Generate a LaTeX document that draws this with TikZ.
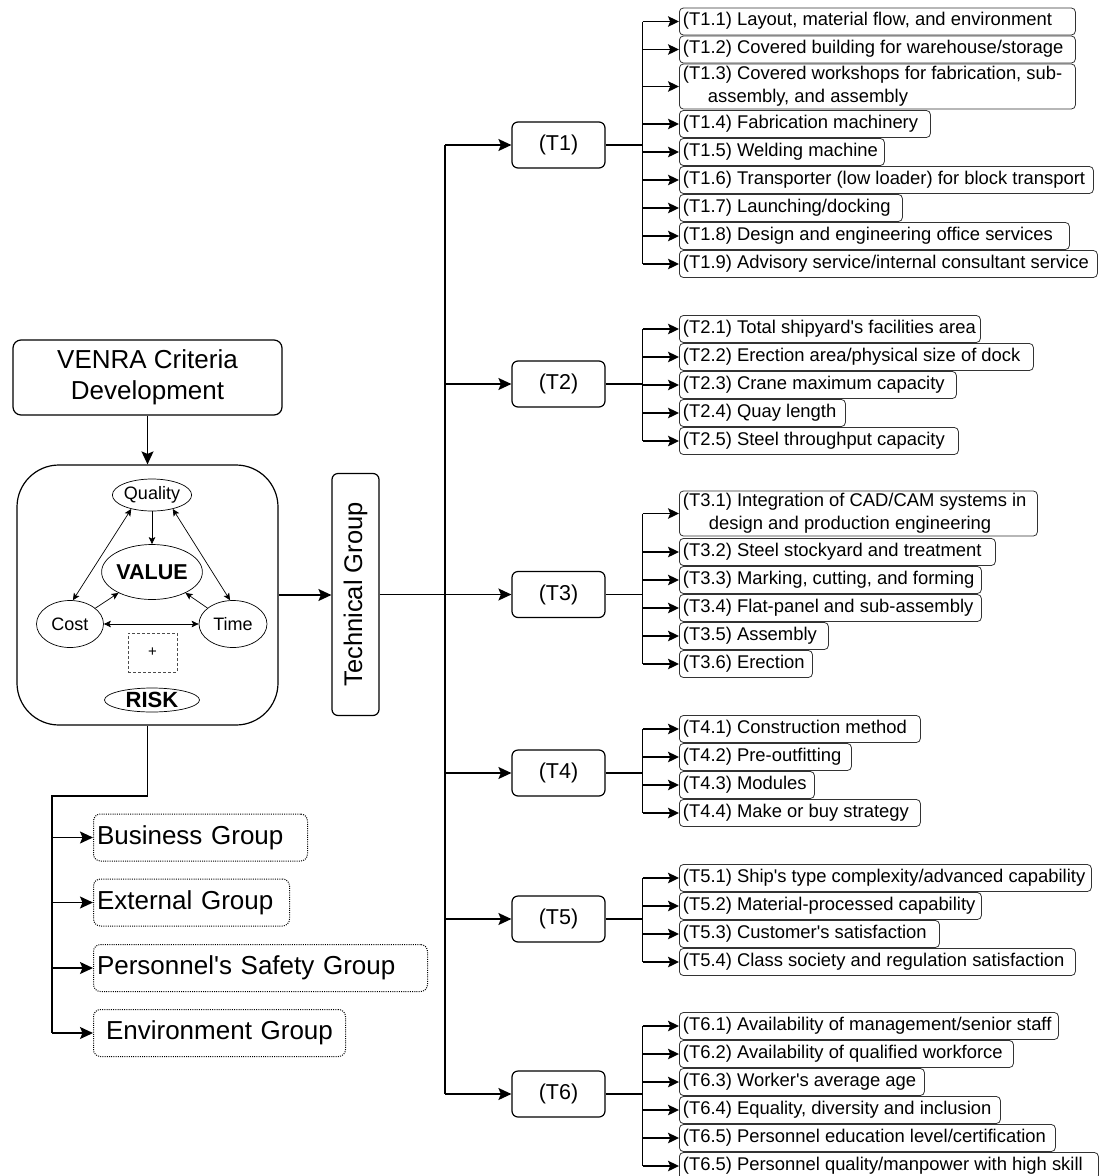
\documentclass[tikz,border=0pt]{standalone}
\usepackage{fontspec}
\setmainfont{Liberation Sans}
\usetikzlibrary{arrows.meta,shapes.geometric,calc}

% criterion box: [extra options]{name}{centre y}{right edge x}{text}
\newcommand\critnode[5][]{%
  \pgfmathsetmacro\critw{#4-679-7}%
  \node[crit, #1] (#2) at (679,#3)
    {\makebox[\critw pt][l]{\begin{tabular}{@{}l@{}}#5\end{tabular}}};%
}
\newcommand\ap{\textquotesingle}

\begin{document}
\begin{tikzpicture}[x=1pt,y=-1pt,
  conn/.style={line width=1.5pt},
  bigarr/.style={conn,-{Stealth[length=13pt,width=12pt,inset=2.5pt]}},
  smallarr/.style={conn,-{Stealth[length=11pt,width=10.5pt,inset=2.2pt]}},
  thinarr/.style={line width=0.7pt,-{Stealth[length=7pt,width=6.5pt,inset=1.5pt]}},
  thinboth/.style={line width=0.7pt,{Stealth[length=7pt,width=6.5pt,inset=1.5pt]}-{Stealth[length=7pt,width=6.5pt,inset=1.5pt]}},
  oval/.style={ellipse, draw, line width=0.7pt, inner sep=0pt},
  tbox/.style={draw, rounded corners=6pt, line width=1.2pt, minimum width=93pt, minimum height=46pt, inner sep=0pt, font=\fontsize{21.5}{25}\selectfont},
  crit/.style={draw=black!80, line width=0.8pt, rounded corners=4pt, anchor=west, inner xsep=3.5pt, inner ysep=0pt, minimum height=27pt, font=\fontsize{18.4}{22.2}\selectfont},
  grp/.style={draw, dash pattern=on 1pt off 1.2pt, line width=1pt, rounded corners=7pt, anchor=west, inner xsep=3.5pt, inner ysep=0pt, minimum height=47pt, font=\fontsize{26}{31}\selectfont}
]
\useasboundingbox (0,0) rectangle (1102,1176);

% ---- left block: VENRA criteria and the value triangle
\node[draw, rounded corners=8pt, line width=1.2pt, minimum width=269pt, minimum height=75pt, inner sep=0pt, align=center, font=\fontsize{26}{31}\selectfont] (venra) at (147.5,377.5) {VENRA Criteria\\Development};
\node[draw, rounded corners=42pt, line width=1.2pt, minimum width=261pt, minimum height=260pt, inner sep=0pt] (core) at (147.5,595) {};

\node[oval, minimum width=68pt, minimum height=32pt, font=\fontsize{18}{21}\selectfont] (qual) at (152,495) {Quality};
\node[oval, minimum width=95pt, minimum height=55pt, font=\bfseries\fontsize{21.5}{25}\selectfont] (val) at (152,572) {VALUE};
\node[oval, minimum width=67pt, minimum height=47pt, font=\fontsize{18}{21}\selectfont] (cost) at (70,624) {Cost};
\node[oval, minimum width=68pt, minimum height=47pt, font=\fontsize{18}{21}\selectfont] (time) at (233,624) {Time};
\node[draw=black!70, dash pattern=on 3pt off 2pt, line width=0.7pt, minimum width=49pt, minimum height=39pt, inner sep=0pt, font=\fontsize{15}{18}\selectfont] (plus) at (152.5,652.5) {+};
\node[oval, minimum width=95pt, minimum height=24pt, font=\bfseries\fontsize{22}{25}\selectfont] (risk) at (152,700) {RISK};

\draw[thinboth] (qual.214) -- (cost.83);
\draw[thinboth] (qual.326) -- (time.97);
\draw[thinboth] (cost.east) -- (time.west);
\draw[thinarr] (qual.south) -- (val.north);
\draw[thinarr] (cost.32) -- (val.212);
\draw[thinarr] (time.148) -- (val.328);

\draw[bigarr] (venra.south) -- (core.north);

% ---- other groups
\node[grp, minimum width=214pt, text width=207pt, align=left] (bus) at (93,837.5) {Business Group};
\node[grp, minimum width=196pt, text width=189pt, align=left] (ext) at (93,902.5) {External Group};
\node[grp, minimum width=334pt, text width=327pt, align=left] (pers) at (93,968) {Personnel\ap s Safety Group};
\node[grp, minimum width=252pt, text width=245pt, align=center] (env) at (93,1033) {Environment Group};

\coordinate (bend) at (147.5,796);
\coordinate (gtrunk) at (52,796);
\draw[conn] (core.south) -- (bend) -- (gtrunk) -- (gtrunk |- env.west);
\foreach \g in {bus,ext,pers,env}
  \draw[bigarr] (gtrunk |- \g.west) -- (\g.west);

% ---- technical group
\node[draw, rounded corners=6pt, line width=1.2pt, minimum width=242pt, minimum height=47pt, inner sep=0pt, rotate=90, font=\fontsize{25.5}{30}\selectfont] (tech) at (355.5,594.5) {Technical Group};
\draw[bigarr] (core.east) -- (core.east -| tech.north);

\coordinate (trunk) at (445,594.5);
\node[tbox] (T1) at (558.5,145) {(T1)};
\node[tbox] (T2) at (558.5,384) {(T2)};
\node[tbox] (T3) at (558.5,594.5) {(T3)};
\node[tbox] (T4) at (558.5,773) {(T4)};
\node[tbox] (T5) at (558.5,919) {(T5)};
\node[tbox] (T6) at (558.5,1094) {(T6)};

\draw[conn] (tech.south) -- (trunk);
\draw[conn] (trunk |- T1.west) -- (trunk |- T6.west);
\foreach \t in {T1,T2,T3,T4,T5,T6}
  \draw[bigarr] (trunk |- \t.west) -- (\t.west);

% ---- criteria of T1
\critnode{c11}{21.5}{1075}{(T1.1) Layout, material flow, and environment}
\critnode{c12}{49.5}{1075}{(T1.2) Covered building for warehouse/storage}
\critnode[minimum height=45pt]{c13}{86.5}{1075}{(T1.3) Covered workshops for fabrication, sub-\\\hspace*{25pt}assembly, and assembly}
\critnode{c14}{124}{930}{(T1.4) Fabrication machinery}
\critnode{c15}{152}{884}{(T1.5) Welding machine}
\critnode{c16}{180}{1093}{(T1.6) Transporter (low loader) for block transport}
\critnode{c17}{208}{902}{(T1.7) Launching/docking}
\critnode{c18}{236}{1069}{(T1.8) Design and engineering office services}
\critnode{c19}{264}{1097}{(T1.9) Advisory service/internal consultant service}

% ---- criteria of T2
\critnode{c21}{329}{980}{(T2.1) Total shipyard\ap s facilities area}
\critnode{c22}{357}{1033}{(T2.2) Erection area/physical size of dock}
\critnode{c23}{385}{956}{(T2.3) Crane maximum capacity}
\critnode{c24}{413}{845}{(T2.4) Quay length}
\critnode{c25}{441}{958}{(T2.5) Steel throughput capacity}

% ---- criteria of T3
\critnode[minimum height=45pt]{c31}{513.5}{1037}{(T3.1) Integration of CAD/CAM systems in\\\hspace*{26pt}design and production engineering}
\critnode{c32}{552}{995}{(T3.2) Steel stockyard and treatment}
\critnode{c33}{580}{981}{(T3.3) Marking, cutting, and forming}
\critnode{c34}{608}{981}{(T3.4) Flat-panel and sub-assembly}
\critnode{c35}{636}{828}{(T3.5) Assembly}
\critnode{c36}{664}{812}{(T3.6) Erection}

% ---- criteria of T4
\critnode{c41}{729}{920}{(T4.1) Construction method}
\critnode{c42}{757}{851}{(T4.2) Pre-outfitting}
\critnode{c43}{785}{814}{(T4.3) Modules}
\critnode{c44}{813}{920}{(T4.4) Make or buy strategy}

% ---- criteria of T5
\critnode{c51}{878}{1091}{(T5.1) Ship\ap s type complexity/advanced capability}
\critnode{c52}{906}{981}{(T5.2) Material-processed capability}
\critnode{c53}{934}{939}{(T5.3) Customer\ap s satisfaction}
\critnode{c54}{962}{1075}{(T5.4) Class society and regulation satisfaction}

% ---- criteria of T6
\critnode{c61}{1026}{1058}{(T6.1) Availability of management/senior staff}
\critnode{c62}{1054}{1013}{(T6.2) Availability of qualified workforce}
\critnode{c63}{1082}{924}{(T6.3) Worker\ap s average age}
\critnode{c64}{1110}{1000}{(T6.4) Equality, diversity and inclusion}
\critnode{c65}{1138}{1055}{(T6.5) Personnel education level/certification}
\critnode{c66}{1166}{1098}{(T6.5) Personnel quality/manpower with high skill}

% ---- branch connectors from each T box to its criteria
\foreach \t/\first/\last/\list in {
    T1/c11/c19/{c11,c12,c13,c14,c15,c16,c17,c18,c19},
    T2/c21/c25/{c21,c22,c23,c24,c25},
    T3/c31/c36/{c31,c32,c33,c34,c35,c36},
    T4/c41/c44/{c41,c42,c43,c44},
    T5/c51/c54/{c51,c52,c53,c54},
    T6/c61/c66/{c61,c62,c63,c64,c65,c66}}{
  \coordinate (\t j) at ($(\t.east)+(37,0)$);
  \draw[conn] (\t.east) -- (\t j);
  \draw[conn] (\t j |- \first.west) -- (\t j |- \last.west);
  \foreach \c in \list
    \draw[smallarr] (\t j |- \c.west) -- (\c.west);
}
\end{tikzpicture}
\end{document}
